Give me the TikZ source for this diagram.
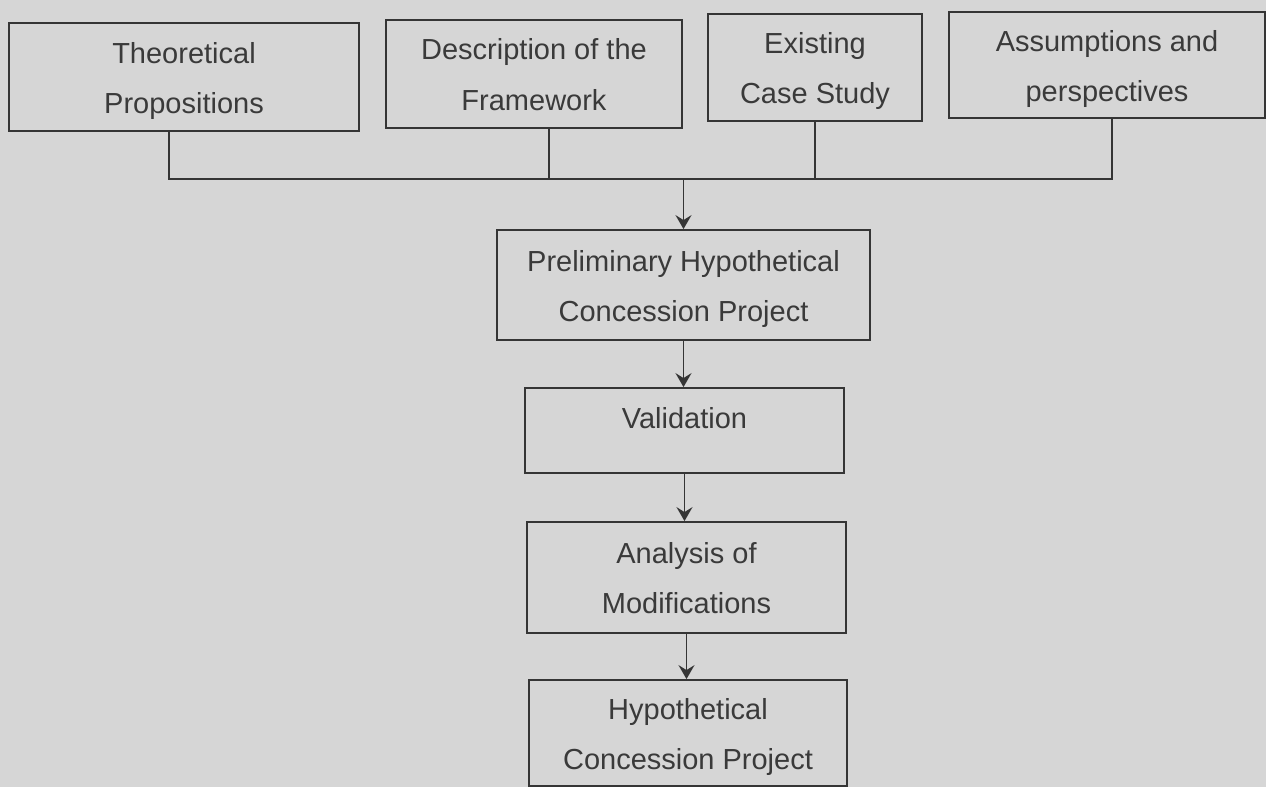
\documentclass[tikz,border=0pt]{standalone}
\usepackage{fontspec}
\setmainfont{Liberation Sans}
\usetikzlibrary{arrows.meta,calc}
\definecolor{paper}{HTML}{D6D6D6}
\definecolor{ink}{HTML}{3A3A3A}
\definecolor{rule}{HTML}{353535}
\begin{document}
\begin{tikzpicture}[x=0.5pt,y=-0.5pt,
  box/.style={draw=rule,line width=0.9pt,inner sep=0pt,align=center,text=ink,
    font=\fontsize{14.5}{25}\selectfont,text height=36pt,text depth=0pt},
  oneline/.style={text height=10pt,text depth=12.5pt},
  link/.style={draw=rule,line width=0.9pt},
  flow/.style={link,-{Stealth[length=7pt,width=8pt,inset=2.5pt]}}]
\useasboundingbox (0,0) rectangle (1266,787);
\fill[paper] (0,0) rectangle (1266,787);

% input boxes along the top
\node[box,minimum width=175pt,minimum height=54pt] (t1) at (184,77) {Theoretical\\Propositions};
\node[box,minimum width=148pt,minimum height=54pt] (t2) at (534,74) {Description of the\\Framework};
\node[box,minimum width=107pt,minimum height=53.5pt] (t3) at (815,67.5) {Existing\\Case Study};
\node[box,minimum width=158pt,minimum height=53pt] (t4) at (1107,65) {Assumptions and\\perspectives};

% main sequence
\node[box,minimum width=186.5pt,minimum height=55pt] (p) at (683.5,285) {Preliminary Hypothetical\\Concession Project};
\node[box,oneline,minimum width=159.5pt,minimum height=42.5pt] (v) at (684.5,430.5) {Validation};
\node[box,minimum width=159.5pt,minimum height=55.5pt] (a) at (686.5,577.5) {Analysis of\\Modifications};
\node[box,minimum width=159pt,minimum height=53pt] (h) at (688,733) {Hypothetical\\Concession Project};

% collecting bus
\coordinate (b1) at (169,179);
\coordinate (b2) at (549,179);
\coordinate (b3) at (815,179);
\coordinate (b4) at (1112,179);
\coordinate (bus) at (683.5,179);

\draw[link] (t1.south -| b1) -- (b1) -- (b4) -- (t4.south -| b4);
\draw[link] (t2.south -| b2) -- (b2);
\draw[link] (t3.south -| b3) -- (b3);
\draw[flow] (bus) -- (p.north);
\draw[flow] (p.south) -- (p.south |- v.north);
\draw[flow] (v.south) -- (v.south |- a.north);
\draw[flow] (a.south) -- (a.south |- h.north);
\end{tikzpicture}
\end{document}
